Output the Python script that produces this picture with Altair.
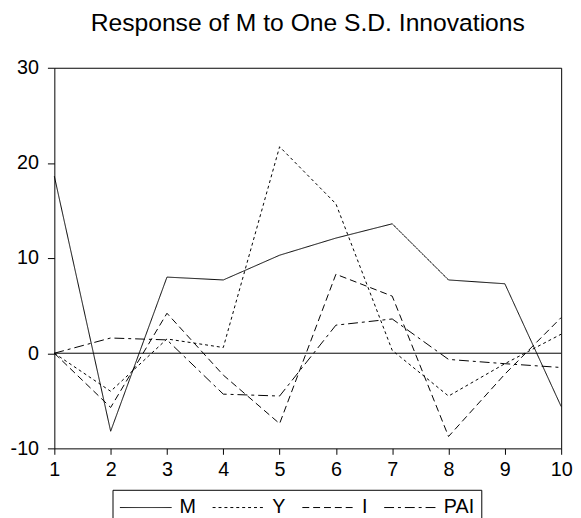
import altair as alt
import pandas as pd

periods = [1, 2, 3, 4, 5, 6, 7, 8, 9, 10]
resp_M = [18.6, -8.2, 8.0, 7.7, 10.3, 12.1, 13.6, 7.7, 7.3, -5.6]
resp_Y = [0.0, -4.0, 1.5, 0.6, 21.7, 15.7, 0.3, -4.5, -1.1, 2.0]
resp_I = [0.0, -5.7, 4.2, -2.3, -7.4, 8.3, 6.0, -8.75, -2.2, 3.75]
resp_PAI = [0.0, 1.6, 1.4, -4.3, -4.5, 2.95, 3.6, -0.65, -1.1, -1.5]
series_names = ["M", "Y", "I", "PAI"]
y_ticks = [-10, 0, 10, 20, 30]
zero_level = [0]

rows = []
for name, vals in zip(series_names, [resp_M, resp_Y, resp_I, resp_PAI]):
    for p, v in zip(periods, vals):
        rows.append({"period": p, "value": v, "series": name})
df = pd.DataFrame(rows)
zero_df = pd.DataFrame({"value": zero_level})

FONT = "Liberation Sans"

x_enc = alt.X(
    "period:Q",
    scale=alt.Scale(domain=[1, 10], nice=False, zero=False),
    axis=alt.Axis(values=periods, labelExpr="'' + datum.value", tickSize=6,
                  labelPadding=6, labelFlush=False, labelOverlap=False),
    title=None,
)
y_enc = alt.Y(
    "value:Q",
    scale=alt.Scale(domain=[-10, 30], nice=False, zero=False),
    axis=alt.Axis(values=y_ticks, labelExpr="'' + datum.value", tickSize=7,
                  labelPadding=9),
    title=None,
)

lines = alt.Chart(df).mark_line(color="black", strokeWidth=1).encode(
    x=x_enc,
    y=y_enc,
    strokeDash=alt.StrokeDash(
        "series:N",
        scale=alt.Scale(domain=series_names,
                        range=[[1, 0], [3, 3], [7, 4], [10, 4, 3, 4]]),
        sort=series_names,
        legend=alt.Legend(
            title=None,
            orient="none",
            legendX=59,
            legendY=428,
            direction="horizontal",
            symbolType="M-1,0H4",
            symbolSize=441,
            symbolStrokeWidth=1,
            symbolStrokeColor="black",
            labelFontSize=20,
            labelFont=FONT,
            labelColor="black",
            labelOffset=39,
            columnPadding=14,
            padding=7,
            strokeColor="black",
        ),
    ),
)

zero = alt.Chart(zero_df).mark_rule(color="black", strokeWidth=1).encode(
    y="value:Q"
)

chart = alt.layer(zero, lines).properties(
    width=514,
    height=386,
    autosize=alt.AutoSizeParams(type="none"),
    padding={"left": 47, "top": 57, "right": 12, "bottom": 67},
    title=alt.TitleParams(
        "Response of M to One S.D. Innovations",
        fontSize=25,
        font=FONT,
        fontWeight="normal",
        color="black",
        offset=22,
        anchor="middle",
    ),
).configure_view(
    stroke="black", strokeWidth=1
).configure_axis(
    domain=False,
    grid=False,
    tickColor="black",
    tickWidth=1,
    labelColor="black",
    labelFont=FONT,
    labelFontSize=20,
)

chart.save("out.html", embed_options={"renderer": "svg", "actions": False})
